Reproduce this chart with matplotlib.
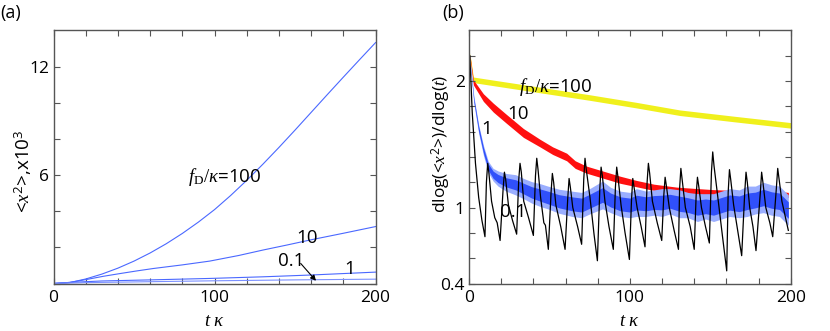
import matplotlib
matplotlib.use('Agg')
import matplotlib.pyplot as plt
import numpy as np

plt.rcParams['font.family'] = ['Open Sans', 'DejaVu Sans']
plt.rcParams['mathtext.fontset'] = 'custom'
plt.rcParams['mathtext.rm'] = 'Liberation Serif'
plt.rcParams['mathtext.it'] = 'Liberation Serif:italic'
plt.rcParams['mathtext.sf'] = 'Open Sans'

# ---------------- Panel (a) data: <x^2> (x10^3) vs t*kappa ----------------
t_a100 = [0, 10, 20, 30, 40, 50, 60, 70, 80, 90, 100, 110, 120, 130, 140, 150,
          160, 170, 180, 190, 200]
v_a100 = [0, 0.05, 0.25, 0.52, 0.85, 1.24, 1.69, 2.20, 2.77, 3.40, 4.09, 4.87,
          5.71, 6.60, 7.53, 8.49, 9.47, 10.45, 11.42, 12.38, 13.33]
t_a10 = [0, 10, 21, 31, 42, 52, 62, 80, 97, 115, 130, 145, 160, 180, 200]
v_a10 = [0, 0.06, 0.23, 0.40, 0.56, 0.70, 0.83, 1.03, 1.24, 1.55, 1.85, 2.13,
         2.42, 2.78, 3.15]
t_a1 = [0, 10, 30, 60, 97, 130, 160, 200]
v_a1 = [0, 0.06, 0.14, 0.20, 0.28, 0.37, 0.47, 0.63]
t_a01 = [0, 20, 60, 100, 150, 200]
v_a01 = [0, 0.05, 0.10, 0.15, 0.20, 0.24]

# ---------------- Panel (b) data: local slope vs t*kappa ----------------
t_y = [0.5, 2.7, 13, 44, 75, 104, 131, 165, 200]
v_y = [2.2, 2.01, 1.99, 1.93, 1.87, 1.81, 1.75, 1.70, 1.65]

t_r = [0.5, 2.7, 8.9, 15.1, 23.4, 33.8, 44.1, 52, 60.7, 66, 73, 83.5, 94, 104,
       115, 129, 140, 152, 162, 173, 183, 190, 198.5]
v_r = [2.2, 1.99, 1.87, 1.79, 1.70, 1.59, 1.51, 1.45, 1.40, 1.34, 1.30, 1.26,
       1.22, 1.19, 1.16, 1.14, 1.13, 1.12, 1.115, 1.11, 1.12, 1.11, 1.10]
w_r = [0.01, 0.02, 0.03, 0.035, 0.035, 0.035, 0.03, 0.03, 0.03, 0.03, 0.028,
       0.028, 0.028, 0.025, 0.025, 0.022, 0.022, 0.022, 0.022, 0.022, 0.025,
       0.022, 0.02]

t_b = [0.5, 1, 3, 6, 9, 12, 15, 18, 23, 29, 34, 39, 44, 49, 56, 64, 70, 75, 83,
       88, 94, 100, 104, 110, 115, 120, 125, 131, 136, 142, 147, 152, 157, 162,
       168, 173, 178, 183, 188, 193, 198.5]
v_b = [2.2, 2.1, 1.85, 1.62, 1.45, 1.32, 1.26, 1.23, 1.20, 1.18, 1.15, 1.12,
       1.10, 1.08, 1.05, 1.03, 1.02, 1.05, 1.10, 1.06, 1.03, 1.02, 1.04, 1.03,
       1.04, 1.04, 1.05, 1.03, 1.02, 1.00, 1.01, 1.00, 1.02, 1.04, 1.03, 1.05,
       1.06, 1.08, 1.06, 1.05, 0.98]
w_b_out = [0.01, 0.02, 0.03, 0.035, 0.04, 0.045, 0.05, 0.06, 0.07, 0.08, 0.08,
           0.085, 0.09, 0.09, 0.095, 0.1, 0.1, 0.1, 0.11, 0.1, 0.1, 0.1,
           0.11, 0.1, 0.1, 0.11, 0.1, 0.11, 0.1, 0.11, 0.1, 0.11, 0.11,
           0.11, 0.11, 0.12, 0.11, 0.12, 0.12, 0.12, 0.12]
w_b_in = [0.008, 0.01, 0.015, 0.02, 0.022, 0.025, 0.028, 0.032, 0.036, 0.04,
          0.042, 0.045, 0.048, 0.05, 0.052, 0.055, 0.055, 0.055, 0.058, 0.055,
          0.055, 0.055, 0.058, 0.055, 0.055, 0.058, 0.055, 0.06, 0.058, 0.06,
          0.058, 0.06, 0.06, 0.06, 0.062, 0.065, 0.062, 0.065, 0.065, 0.065,
          0.065]

t_k = [0.5, 2, 4, 6, 8, 9.9,
       10.8, 11.6, 12.3, 14, 16, 17.5, 19.3,
       21.2, 22.0, 22.8, 24.5, 27, 29.6,
       30.9, 31.7, 32.5, 34, 37, 40.0,
       41.3, 42.1, 42.9, 44.5, 46.5, 47.5, 49.3,
       51.0, 51.8, 52.6, 54, 57, 59.7,
       61.4, 62.2, 63.0, 64.5, 67.5, 70.0,
       71.3, 72.1, 72.9, 75.2, 77.7, 79.8,
       81.3, 82.1, 82.9, 84.5, 87, 89.7,
       91.0, 91.8, 92.6, 94.5, 97, 99.7,
       101.0, 101.8, 102.6, 104.5, 107, 109.4,
       110.7, 111.5, 112.3, 114, 117, 119.8,
       121.1, 121.9, 122.7, 124.5, 127.5, 130.2,
       130.9, 131.7, 132.5, 134.5, 137.5, 140.0,
       141.2, 142.0, 142.8, 144.5, 147, 149.4,
       150.7, 151.5, 152.3, 154.5, 157.5, 160.2,
       161.1, 161.9, 162.7, 164.5, 167, 169.5,
       171.4, 172.2, 173.0, 174.5, 176.5, 178.4,
       181.1, 181.9, 182.7, 184.5, 187, 188.8,
       191.1, 191.9, 192.7, 194.5, 198.5]
v_k = [2.2, 1.75, 1.35, 1.08, 0.90, 0.77,
       1.20, 1.35, 1.28, 1.05, 0.92, 0.88, 0.74,
       1.15, 1.28, 1.22, 1.02, 0.90, 0.79,
       1.22, 1.35, 1.28, 1.05, 0.92, 0.78,
       1.25, 1.39, 1.30, 1.08, 0.88, 0.86, 0.67,
       1.12, 1.27, 1.20, 1.02, 0.85, 0.67,
       1.08, 1.23, 1.16, 1.00, 0.85, 0.71,
       1.22, 1.39, 1.30, 1.08, 0.79, 0.58,
       1.15, 1.32, 1.25, 1.05, 0.85, 0.67,
       1.16, 1.32, 1.24, 1.02, 0.80, 0.59,
       1.06, 1.23, 1.16, 1.00, 0.85, 0.69,
       1.20, 1.35, 1.27, 1.05, 0.88, 0.74,
       1.10, 1.24, 1.17, 1.00, 0.82, 0.67,
       1.15, 1.31, 1.22, 1.00, 0.85, 0.67,
       1.10, 1.24, 1.17, 1.00, 0.85, 0.72,
       1.28, 1.44, 1.33, 1.10, 0.78, 0.50,
       1.12, 1.30, 1.22, 1.02, 0.82, 0.62,
       1.12, 1.28, 1.20, 1.00, 0.85, 0.66,
       1.12, 1.28, 1.20, 1.00, 0.88, 0.77,
       1.16, 1.31, 1.23, 1.05, 0.82]

xticks = [0, 20, 40, 60, 80, 100, 120, 140, 160, 180, 200]
xticklabels = ['0', '', '', '', '', '100', '', '', '', '', '200']
yticks_a = [0, 2, 4, 6, 8, 10, 12]
yticklabels_a = ['', '', '', '6', '', '', '12']
yticks_b = [0.4, 0.6, 0.8, 1.0, 1.2, 1.4, 1.6, 1.8, 2.0, 2.2]
yticklabels_b = ['0.4', '', '', '1', '', '', '', '', '2', '']

# ---------------- figure ----------------
fig = plt.figure(figsize=(8.3, 3.31), dpi=100)
axA = fig.add_axes([0.0645, 0.1435, 0.388, 0.7644])
axB = fig.add_axes([0.5651, 0.1435, 0.3876, 0.7644])

spine_c = '#555555'
for ax in (axA, axB):
    for s in ax.spines.values():
        s.set_color(spine_c)
        s.set_linewidth(1.0)
    ax.tick_params(direction='in', top=True, right=True, length=4, width=0.8,
                   color=spine_c, labelsize=12.5, labelcolor='black')
    ax.tick_params(axis='x', pad=5)
    ax.tick_params(axis='y', pad=3)
    ax.set_xlim(0, 200)
    ax.set_xticks(xticks)
    ax.set_xticklabels(xticklabels)

blue = '#4a68ff'
axA.plot(t_a100, v_a100, color=blue, lw=0.8)
axA.plot(t_a10, v_a10, color=blue, lw=0.8)
axA.plot(t_a1, v_a1, color=blue, lw=0.8)
axA.plot(t_a01, v_a01, color='#7b90ff', lw=0.8)
axA.set_ylim(0, 14)
axA.set_yticks(yticks_a)
axA.set_yticklabels(yticklabels_a)

lab_fs = 13.5
axA.text(106.1, 5.91, r"$f_{\mathrm{D}}/\kappa$=100", fontsize=lab_fs,
         ha='center', va='center')
axA.text(157.3, 2.5, "10", fontsize=lab_fs, ha='center', va='center')
axA.text(183.7, 0.78, "1", fontsize=lab_fs, ha='center', va='center')
axA.text(147.9, 1.27, "0.1", fontsize=lab_fs, ha='center', va='center')
axA.annotate('', xy=(163, 0.15), xytext=(153.5, 1.11),
             arrowprops=dict(arrowstyle='-|>', color='k', lw=0.8,
                             mutation_scale=8, shrinkA=0, shrinkB=0))

axA.set_xlabel(r"$t\ \kappa$", fontsize=13.5)
axA.xaxis.label.set_va('center')
axA.xaxis.set_label_coords(0.5, -0.147)
axA.set_ylabel(r"<$x^{\mathsf{2}}$>,x10$^{\mathsf{3}}$", fontsize=13.5)
axA.yaxis.label.set_va('center')
axA.yaxis.set_label_coords(-0.095, 0.442)

# panel (b)
axB.fill_between(t_y, np.array(v_y) - 0.022, np.array(v_y) + 0.022,
                 color='#f0f01c', lw=0)
axB.fill_between(t_r, np.array(v_r) - np.array(w_r), np.array(v_r) + np.array(w_r),
                 color='#ff1010', lw=0)
axB.fill_between(t_b, np.array(v_b) - np.array(w_b_out),
                 np.array(v_b) + np.array(w_b_out), color='#9aaeff', lw=0)
axB.fill_between(t_b, np.array(v_b) - np.array(w_b_in),
                 np.array(v_b) + np.array(w_b_in), color='#3050fa', lw=0)
axB.plot(t_k, v_k, color='black', lw=0.9)
axB.set_ylim(0.4, 2.4)
axB.set_yticks(yticks_b)
axB.set_yticklabels(yticklabels_b)

axB.text(54, 1.955, r"$f_{\mathrm{D}}/\kappa$=100", fontsize=lab_fs,
         ha='center', va='center')
axB.text(30.7, 1.74, "10", fontsize=lab_fs, ha='center', va='center')
axB.text(11, 1.62, "1", fontsize=lab_fs, ha='center', va='center')
axB.text(27.5, 0.965, "0.1", fontsize=lab_fs, ha='center', va='center')

axB.set_xlabel(r"$t\ \kappa$", fontsize=13.5)
axB.xaxis.label.set_va('center')
axB.xaxis.set_label_coords(0.5, -0.147)
axB.set_ylabel(r"dlog(<$x^{\mathsf{2}}$>)/dlog($t$)", fontsize=12.5)
axB.yaxis.label.set_va('center')
axB.yaxis.set_label_coords(-0.085, 0.551)

fig.text(0.0, 0.961, "(a)", fontsize=13, ha='left', va='center')
fig.text(0.5325, 0.961, "(b)", fontsize=13, ha='left', va='center')

fig.savefig('out.png', dpi=100)
